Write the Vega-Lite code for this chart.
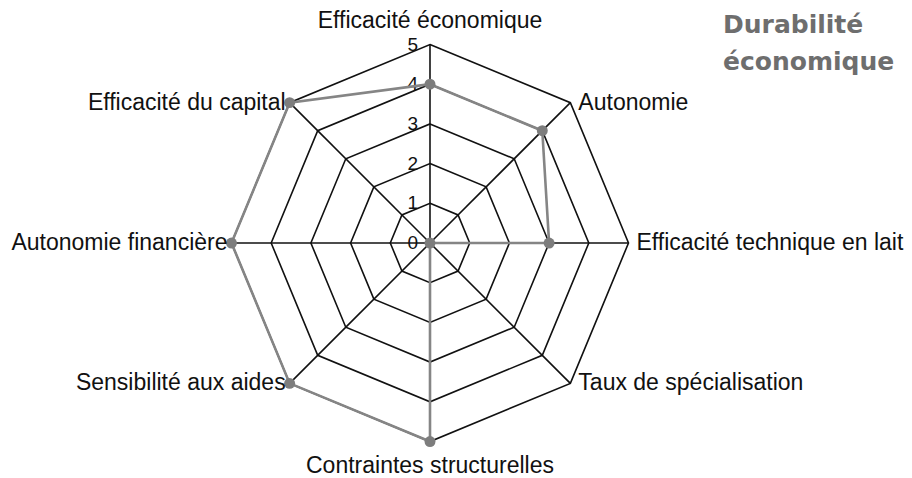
{
  "$schema": "https://vega.github.io/schema/vega-lite/v6.json",
  "width": 912,
  "height": 478,
  "autosize": {"type": "none"},
  "padding": 0,
  "background": "white",
  "config": {"view": {"stroke": null}, "font": "Liberation Sans"},
  "title": {
    "text": ["Durabilité", "économique"],
    "orient": "top",
    "anchor": "end",
    "frame": "group",
    "align": "left",
    "baseline": "top",
    "offset": 0,
    "dx": -189,
    "dy": 75,
    "font": "DejaVu Sans",
    "fontSize": 25,
    "fontWeight": "bold",
    "color": "#6e6e6e",
    "lineHeight": 37
  },
  "datasets": {
    "axes": [
      {"axis": "Efficacité économique", "i": 0, "value": 4},
      {"axis": "Autonomie", "i": 1, "value": 4},
      {"axis": "Efficacité technique en lait", "i": 2, "value": 3},
      {"axis": "Taux de spécialisation", "i": 3, "value": 0},
      {"axis": "Contraintes structurelles", "i": 4, "value": 5},
      {"axis": "Sensibilité aux aides", "i": 5, "value": 5},
      {"axis": "Autonomie financière", "i": 6, "value": 5},
      {"axis": "Efficacité du capital", "i": 7, "value": 5}
    ],
    "levels": [
      {"level": 1, "i": [0, 1, 2, 3, 4, 5, 6, 7]},
      {"level": 2, "i": [0, 1, 2, 3, 4, 5, 6, 7]},
      {"level": 3, "i": [0, 1, 2, 3, 4, 5, 6, 7]},
      {"level": 4, "i": [0, 1, 2, 3, 4, 5, 6, 7]},
      {"level": 5, "i": [0, 1, 2, 3, 4, 5, 6, 7]}
    ],
    "ticks": [
      {"level": 0}, {"level": 1}, {"level": 2}, {"level": 3}, {"level": 4}, {"level": 5}
    ]
  },
  "encoding": {
    "x": {"field": "px", "type": "quantitative", "scale": {"domain": [-10.831, 12.141], "nice": false, "zero": false}, "axis": null},
    "y": {"field": "py", "type": "quantitative", "scale": {"domain": [-5.919, 6.121], "nice": false, "zero": false}, "axis": null}
  },
  "layer": [
    {
      "data": {"name": "levels"},
      "transform": [
        {"flatten": ["i"]},
        {"calculate": "datum.level * sin(datum.i * PI / 4)", "as": "px"},
        {"calculate": "datum.level * cos(datum.i * PI / 4)", "as": "py"}
      ],
      "mark": {"type": "line", "interpolate": "linear-closed", "color": "#111111", "strokeWidth": 1.6},
      "encoding": {
        "detail": {"field": "level", "type": "nominal"},
        "order": {"field": "i", "type": "quantitative"}
      }
    },
    {
      "data": {"name": "axes"},
      "transform": [
        {"calculate": "5 * sin(datum.i * PI / 4)", "as": "px"},
        {"calculate": "5 * cos(datum.i * PI / 4)", "as": "py"}
      ],
      "mark": {"type": "rule", "color": "#111111", "strokeWidth": 1.6},
      "encoding": {
        "x2": {"datum": 0},
        "y2": {"datum": 0}
      }
    },
    {
      "data": {"name": "ticks"},
      "transform": [
        {"calculate": "0", "as": "px"},
        {"calculate": "datum.level", "as": "py"}
      ],
      "mark": {"type": "text", "align": "right", "baseline": "middle", "dx": -12, "fontSize": 19, "color": "#111111"},
      "encoding": {"text": {"field": "level", "type": "quantitative"}}
    },
    {
      "data": {"name": "axes"},
      "transform": [
        {"calculate": "datum.value * sin(datum.i * PI / 4)", "as": "px"},
        {"calculate": "datum.value * cos(datum.i * PI / 4)", "as": "py"}
      ],
      "mark": {"type": "line", "interpolate": "linear-closed", "color": "#858585", "strokeWidth": 2.6},
      "encoding": {"order": {"field": "i", "type": "quantitative"}}
    },
    {
      "data": {"name": "axes"},
      "transform": [
        {"calculate": "datum.value * sin(datum.i * PI / 4)", "as": "px"},
        {"calculate": "datum.value * cos(datum.i * PI / 4)", "as": "py"}
      ],
      "mark": {"type": "point", "filled": true, "color": "#7d7d7d", "size": 120, "opacity": 1}
    },
    {
      "data": {"name": "axes"},
      "transform": [
        {"filter": "datum.i == 0"},
        {"calculate": "5 * sin(datum.i * PI / 4)", "as": "px"},
        {"calculate": "5 * cos(datum.i * PI / 4)", "as": "py"}
      ],
      "mark": {"type": "text", "align": "center", "baseline": "alphabetic", "dy": -17, "fontSize": 23, "color": "#111111"},
      "encoding": {"text": {"field": "axis", "type": "nominal"}}
    },
    {
      "data": {"name": "axes"},
      "transform": [
        {"filter": "datum.i >= 1 && datum.i <= 3"},
        {"calculate": "5 * sin(datum.i * PI / 4)", "as": "px"},
        {"calculate": "5 * cos(datum.i * PI / 4)", "as": "py"}
      ],
      "mark": {"type": "text", "align": "left", "baseline": "middle", "dx": 8, "fontSize": 23, "color": "#111111"},
      "encoding": {"text": {"field": "axis", "type": "nominal"}}
    },
    {
      "data": {"name": "axes"},
      "transform": [
        {"filter": "datum.i == 4"},
        {"calculate": "5 * sin(datum.i * PI / 4)", "as": "px"},
        {"calculate": "5 * cos(datum.i * PI / 4)", "as": "py"}
      ],
      "mark": {"type": "text", "align": "center", "baseline": "top", "dy": 13, "fontSize": 23, "color": "#111111"},
      "encoding": {"text": {"field": "axis", "type": "nominal"}}
    },
    {
      "data": {"name": "axes"},
      "transform": [
        {"filter": "datum.i >= 5"},
        {"calculate": "5 * sin(datum.i * PI / 4)", "as": "px"},
        {"calculate": "5 * cos(datum.i * PI / 4)", "as": "py"}
      ],
      "mark": {"type": "text", "align": "right", "baseline": "middle", "dx": -4, "fontSize": 23, "color": "#111111"},
      "encoding": {"text": {"field": "axis", "type": "nominal"}}
    }
  ]
}
